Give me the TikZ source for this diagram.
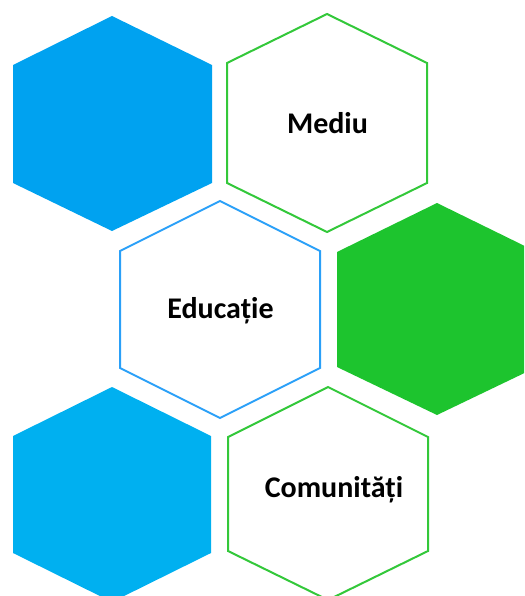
\documentclass[tikz,border=0pt]{standalone}
\usepackage{fontspec}
\setmainfont{Carlito}
\definecolor{bluefill}{HTML}{00A2F0}
\definecolor{bluefilltwo}{HTML}{00B0F0}
\definecolor{greenfill}{HTML}{1DC42E}
\definecolor{greenline}{HTML}{33C83A}
\definecolor{blueline}{HTML}{2AA0F8}
\begin{document}
\begin{tikzpicture}[x=1pt,y=-1pt,
  outlinehex/.style={line width=2pt, line join=miter, fill=white},
  lbl/.style={font=\fontsize{30}{30}\selectfont\bfseries, text=black, anchor=base, inner sep=0pt}]
\useasboundingbox (0,0) rectangle (524,596);
\clip (0,0) rectangle (524,596);
% top-left filled blue
\fill[bluefill] (112,16) -- (212,65) -- (212,183) -- (112,231) -- (13,183) -- (13,65) -- cycle;
% Mediu
\draw[outlinehex, draw=greenline] (327,14) -- (427,63) -- (427,183) -- (327,232) -- (227,183) -- (227,63) -- cycle;
% Educatie
\draw[outlinehex, draw=blueline] (220,201) -- (320,251) -- (320,368) -- (220,418) -- (120,368) -- (120,251) -- cycle;
% green filled
\fill[greenfill] (437,203) -- (537,252) -- (537,367) -- (437,415) -- (337,367) -- (337,252) -- cycle;
% bottom-left filled blue
\fill[bluefilltwo] (112,387) -- (211,436) -- (211,553) -- (112,602) -- (13,553) -- (13,436) -- cycle;
% Comunitati
\draw[outlinehex, draw=greenline] (328,387) -- (428,437) -- (428,551) -- (328,600) -- (228,551) -- (228,437) -- cycle;
\node[lbl] (mediu) at (327.5,134) {Mediu};
\node[lbl] (educatie) at (220.5,318) {Educație};
\node[lbl] (comunitati) at (334,497) {Comunități};
\end{tikzpicture}
\end{document}
